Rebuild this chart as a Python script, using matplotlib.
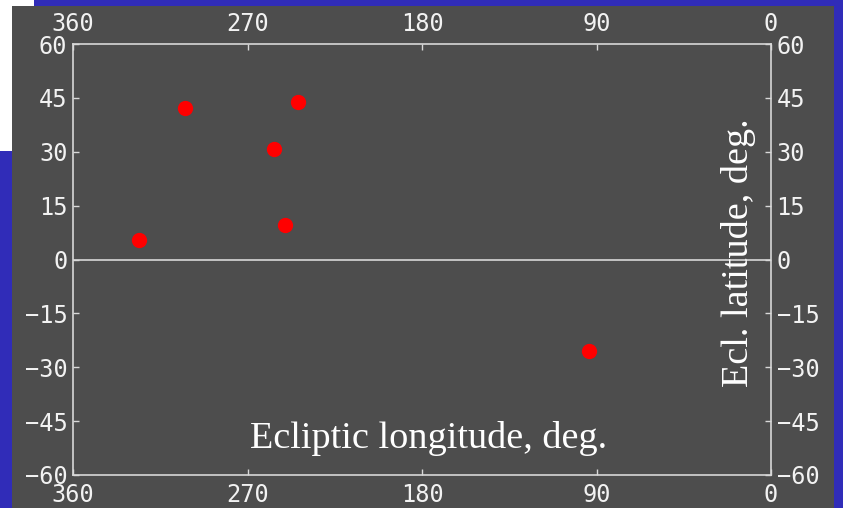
import matplotlib
matplotlib.use("Agg")
import matplotlib.pyplot as plt
from matplotlib.patches import Rectangle

# Data
lon = [326.1, 302.1, 256.3, 250.8, 243.8, 94.0]
lat = [5.4, 42.1, 30.8, 9.7, 43.9, -25.4]
xticks = [360, 270, 180, 90, 0]
xticklabels = ["360", "270", "180", "90", "0"]
yticks = [60, 45, 30, 15, 0, -15, -30, -45, -60]
yticklabels = ["60", "45", "30", "15", "0", "\u221215", "\u221230", "\u221245", "\u221260"]

W, H = 843, 508
fig = plt.figure(figsize=(W / 100, H / 100), dpi=100)
fig.patch.set_facecolor("#302cb8")

def px_rect(x0, y0, x1, y1, color, z):
    r = Rectangle((x0 / W, 1 - y1 / H), (x1 - x0) / W, (y1 - y0) / H,
                  transform=fig.transFigure, facecolor=color, edgecolor="none", zorder=z)
    fig.add_artist(r)

px_rect(0, 0, 34, 151, "white", -10)
px_rect(12, 6, 834, 508, "#4d4d4d", -9)

ax = fig.add_axes([73 / W, (H - 475) / H, 698 / W, 431 / H])
ax.set_facecolor("#4d4d4d")
ax.patch.set_alpha(0)

spine_col = "#d8d8d8"
for s in ax.spines.values():
    s.set_color(spine_col)
    s.set_linewidth(1.2)

ax.axhline(0, color=spine_col, lw=1.2, zorder=1)
ax.plot(lon, lat, "o", color="red", ms=10, mec="red", zorder=3, clip_on=False)

ax.set_xlim(360, 0)
ax.set_ylim(-60, 60)

mono = "DejaVu Sans Mono"
ax.set_xticks(xticks)
ax.set_xticklabels(xticklabels, family=mono, fontsize=17, color="#f2f2f2")
ax.set_yticks(yticks)
ax.set_yticklabels(yticklabels, family=mono, fontsize=17, color="#f2f2f2")
ax.tick_params(axis="x", direction="in", length=4.5, width=1, color=spine_col,
               top=True, bottom=True, labeltop=True, labelbottom=True, pad=5.5)
ax.tick_params(axis="y", direction="in", length=4.5, width=1, color=spine_col,
               left=True, right=True, labelleft=True, labelright=True, pad=4)

serif = "Liberation Serif"
ax.text(0.509, 0.0627, "Ecliptic longitude, deg.", transform=ax.transAxes,
        ha="center", va="baseline", family=serif, fontsize=27.5, color="white")
ax.text(0.953, 0.515, "Ecl. latitude, deg.", transform=ax.transAxes,
        ha="center", va="center", rotation=90, family=serif, fontsize=27.5, color="white")

fig.savefig("out.png", dpi=100, facecolor=fig.get_facecolor())
